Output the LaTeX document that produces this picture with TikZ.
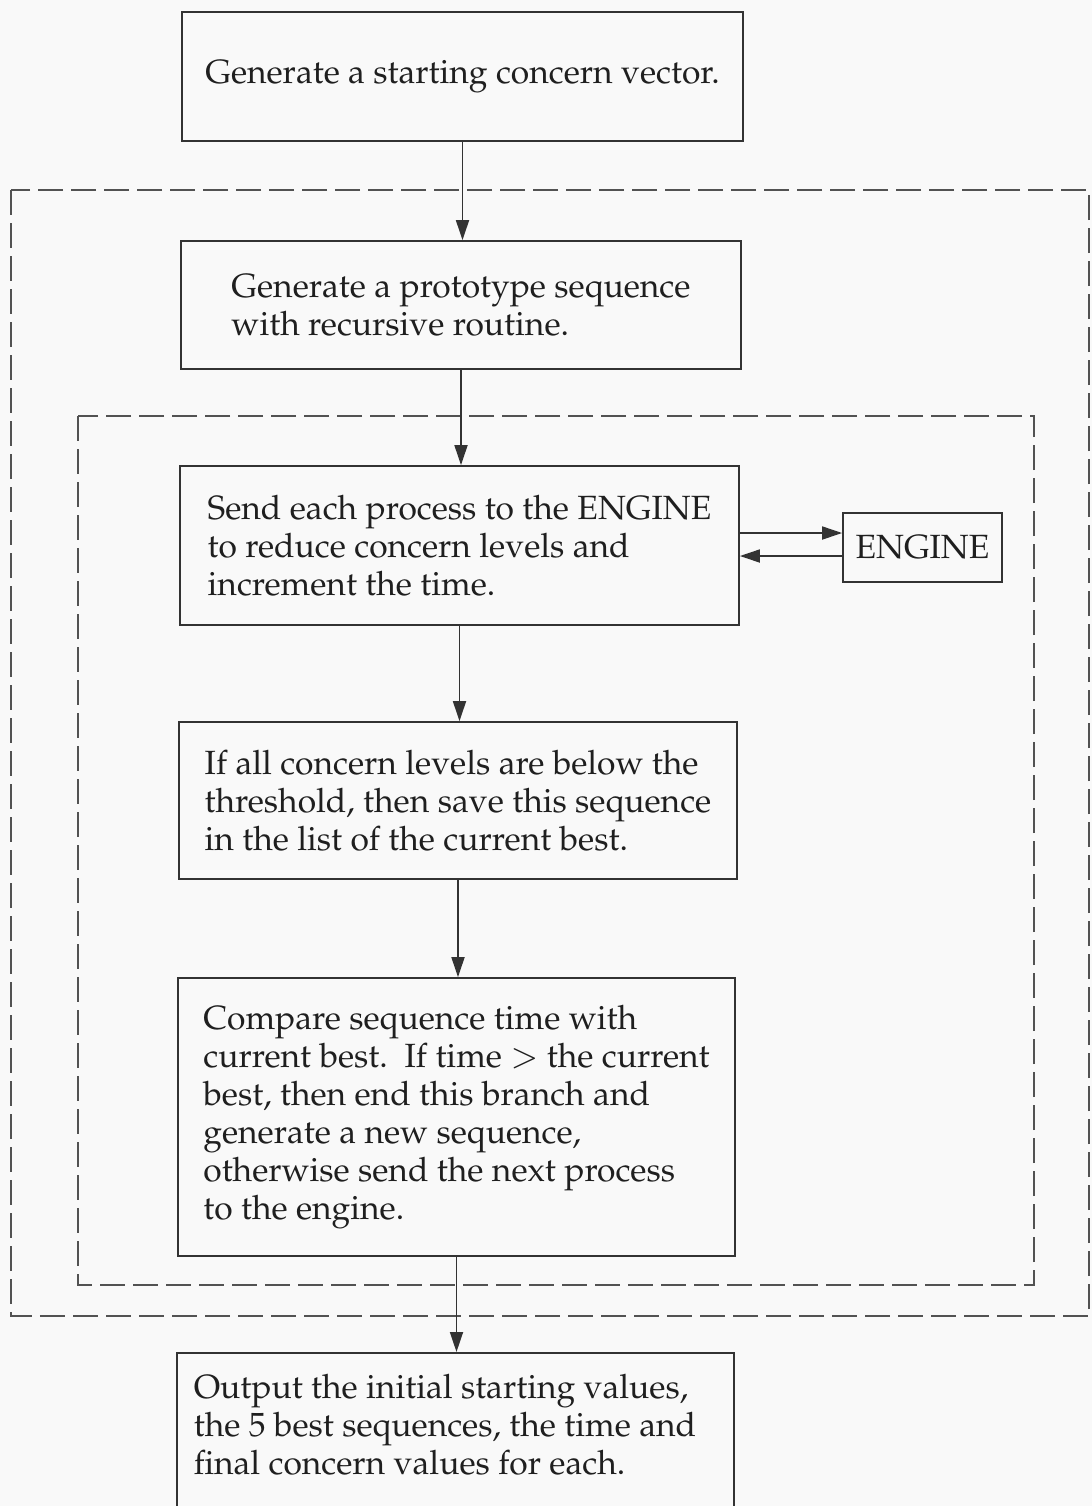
\documentclass[tikz,border=0pt]{standalone}
\usepackage[T1]{fontenc}
\usepackage{mathpazo}
\usetikzlibrary{arrows.meta}
\definecolor{ink}{gray}{0.2}
\definecolor{paper}{gray}{0.975}
\tikzset{
  box/.style={draw=ink, line width=0.9pt, align=left, inner sep=0pt,
    font=\fontsize{16.8}{19}\selectfont, text=black!88},
  boxtext/.style={align=left, inner sep=0pt,
    font=\fontsize{16.8}{19}\selectfont, text=black!88},
  frame/.style={draw=ink!85, line width=0.75pt, dash pattern=on 12.5pt off 4pt},
  arr/.style={draw=ink, line width=0.9pt, -{Triangle[length=10pt,width=6.5pt]}},
}
\begin{document}
\begin{tikzpicture}[x=0.5pt,y=-0.5pt]
% page
\path[fill=paper] (0,0) rectangle (1092,1506);
\useasboundingbox (0,0) rectangle (1092,1506);

% dashed loop frames
\draw[frame] (11,190) rectangle (1089,1316);
\draw[frame] (78,416) rectangle (1034,1285);

% process boxes
\node[box, minimum width=280.5pt, minimum height=64.5pt] (b1) at (462.5,76.5)
  {Generate a starting concern vector.};
\node[box, minimum width=280pt, minimum height=64pt] (b2) at (461,305)
  {Generate a prototype sequence\\with recursive routine.};
\node[box, minimum width=279.5pt, minimum height=79.5pt] (b3) at (459.5,545.5)
  {Send each process to the ENGINE\\to reduce concern levels and\\increment the time.};
\node[box, minimum width=79.5pt, minimum height=34.5pt] (eng) at (922.5,547.5)
  {ENGINE};
\node[box, minimum width=279pt, minimum height=78.5pt] (b4) at (458,800.5)
  {If all concern levels are below the\\threshold, then save this sequence\\in the list of the current best.};
\node[box, minimum width=278.5pt, minimum height=139pt] (b5) at (456.5,1117)
  {Compare sequence time with\\current best.\ \ If time $>$ the current\\best, then end this branch and\\generate a new sequence,\\otherwise send the next process\\to the engine.};
\node[box, minimum width=278.5pt, minimum height=85pt, anchor=north] (b6) at (455.5,1352) {};
\node[boxtext] (t6) at (445,1425)
  {Output the initial starting values,\\the 5 best sequences, the time and\\final concern values for each.};

% flow
\draw[arr] (b1.south) -- (b1.south |- b2.north);
\draw[arr] (b2.south) -- (b2.south |- b3.north);
\draw[arr] (b3.south) -- (b3.south |- b4.north);
\draw[arr] (b4.south) -- (b4.south |- b5.north);
\draw[arr] (b5.south) -- (b5.south |- b6.north);

% exchange with the engine
\draw[arr] ([yshift=7.25pt]eng.west -| b3.east) -- ([yshift=7.25pt]eng.west);
\draw[arr] ([yshift=-4.25pt]eng.west) -- ([yshift=-4.25pt]eng.west -| b3.east);
\end{tikzpicture}
\end{document}
